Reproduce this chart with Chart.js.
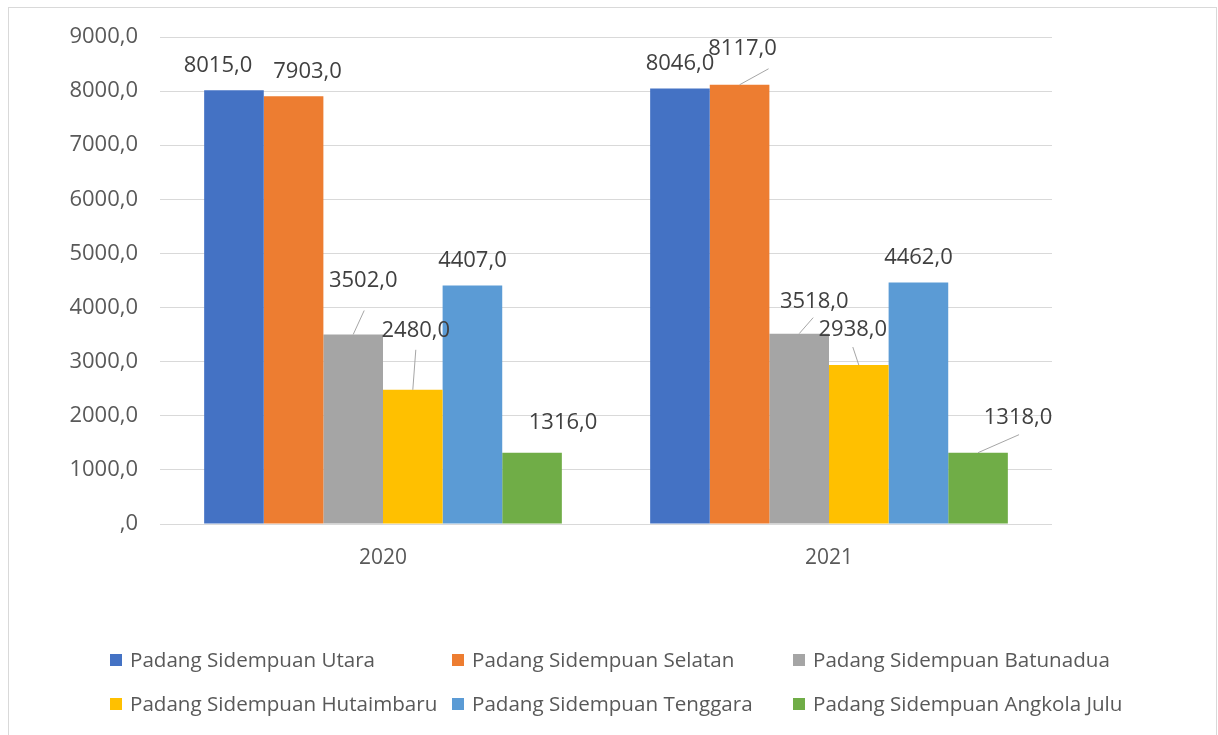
<!DOCTYPE html>
<html>
<head>
<meta charset="utf-8">
<script src="https://cdn.jsdelivr.net/npm/chart.js@4/dist/chart.umd.min.js"></script>
<style>
    body { margin: 0; background: #fff; }
    canvas { display: block; }
</style>
</head>
<body>
<canvas id="chart" width="1218" height="735"></canvas>
<script>
const years = ['2020', '2021'];
const seriesNames = [
    'Padang Sidempuan Utara',
    'Padang Sidempuan Selatan',
    'Padang Sidempuan Batunadua',
    'Padang Sidempuan Hutaimbaru',
    'Padang Sidempuan Tenggara',
    'Padang Sidempuan Angkola Julu'
];
const utara = [8015, 8046];
const selatan = [7903, 8117];
const batunadua = [3502, 3518];
const hutaimbaru = [2480, 2938];
const tenggara = [4407, 4462];
const angkolaJulu = [1316, 1318];
const yTicks = [0, 1000, 2000, 3000, 4000, 5000, 6000, 7000, 8000, 9000];

const colors = ['#4472C4', '#ED7D31', '#A5A5A5', '#FFC000', '#5B9BD5', '#70AD47'];
const FONT = '"Open Sans", "Noto Sans", sans-serif';

// label nudges [dx, dy, leaderX, leaderY] per series / year (leader = null when none)
const labelNudge = [
    [[-16, 0, null], [0, 0, null]],
    [[14, 0, null], [3, -11, [26, 20]]],
    [[10, -29, [1, 30]], [15, -7, [-1, 16]]],
    [[3, -34, [0, 19]], [-6, -10, [0, 17]]],
    [[0, 0, null], [0, 0, null]],
    [[31, -5, null], [40, -10, [1, 17]]]
];

function fmt(v) {
    if (v === 0) return ',0';
    return v.toFixed(1).replace('.', ',');
}

const allValues = [utara, selatan, batunadua, hutaimbaru, tenggara, angkolaJulu];

const frame = {
    id: 'frame',
    beforeDraw(chart) {
        const ctx = chart.ctx;
        ctx.save();
        ctx.fillStyle = '#fff';
        ctx.fillRect(0, 0, chart.width, chart.height);
        ctx.strokeStyle = '#d9d9d9';
        ctx.lineWidth = 1;
        ctx.strokeRect(8.5, 7.5, 1208, 760);
        ctx.restore();
    }
};

const valueLabels = {
    id: 'valueLabels',
    afterDatasetsDraw(chart) {
        const ctx = chart.ctx;
        ctx.save();
        ctx.font = '22px ' + FONT;
        ctx.textAlign = 'center';
        ctx.textBaseline = 'middle';
        chart.data.datasets.forEach((ds, i) => {
            chart.getDatasetMeta(i).data.forEach((bar, j) => {
                const n = labelNudge[i][j];
                const lx = bar.x + n[0];
                const ly = bar.y - 25 + n[1];
                if (n[2]) {
                    ctx.strokeStyle = '#a6a6a6';
                    ctx.lineWidth = 1;
                    ctx.beginPath();
                    ctx.moveTo(lx + n[2][0], ly + n[2][1]);
                    ctx.lineTo(bar.x, bar.y);
                    ctx.stroke();
                }
                ctx.fillStyle = '#404040';
                ctx.fillText(fmt(ds.data[j]), lx, ly);
            });
        });
        ctx.restore();
    }
};

const gridLegend = {
    id: 'gridLegend',
    afterDraw(chart) {
        const ctx = chart.ctx;
        const cols = [110, 452, 793];
        const rows = [660, 704];
        ctx.save();
        ctx.font = '20.6px ' + FONT;
        ctx.textAlign = 'left';
        ctx.textBaseline = 'middle';
        chart.data.datasets.forEach((ds, i) => {
            const x = cols[i % 3];
            const y = rows[Math.floor(i / 3)];
            ctx.fillStyle = ds.backgroundColor;
            ctx.fillRect(x, y - 6, 12, 12);
            ctx.fillStyle = '#595959';
            ctx.fillText(ds.label, x + 20, y + 1);
        });
        ctx.restore();
    }
};

const ctxBar = document.getElementById('chart').getContext('2d');
const myChart = new Chart(ctxBar, {
    type: 'bar',
    data: {
        labels: years,
        datasets: allValues.map((vals, i) => ({
            label: seriesNames[i],
            data: vals,
            backgroundColor: colors[i],
            borderWidth: 0,
            categoryPercentage: 0.802,
            barPercentage: 1
        }))
    },
    options: {
        responsive: false,
        animation: false,
        layout: { padding: { left: 0, right: 166, top: 37, bottom: 0 } },
        plugins: {
            legend: { display: false },
            tooltip: { enabled: false }
        },
        scales: {
            x: {
                grid: { display: false },
                border: { display: false },
                ticks: {
                    color: '#595959',
                    font: { family: FONT, size: 21 },
                    padding: 13
                },
                afterFit: (scale) => { scale.height = 211; }
            },
            y: {
                min: 0,
                max: 9000,
                afterBuildTicks: (scale) => {
                    scale.ticks = yTicks.map(v => ({ value: v }));
                },
                grid: {
                    color: '#d9d9d9',
                    lineWidth: 1,
                    drawTicks: false
                },
                border: { display: false },
                ticks: {
                    color: '#595959',
                    font: { family: FONT, size: 22 },
                    padding: 22,
                    callback: (v) => fmt(v)
                },
                afterFit: (scale) => { scale.width = 160; }
            }
        }
    },
    plugins: [frame, valueLabels, gridLegend]
});
</script>
</body>
</html>
